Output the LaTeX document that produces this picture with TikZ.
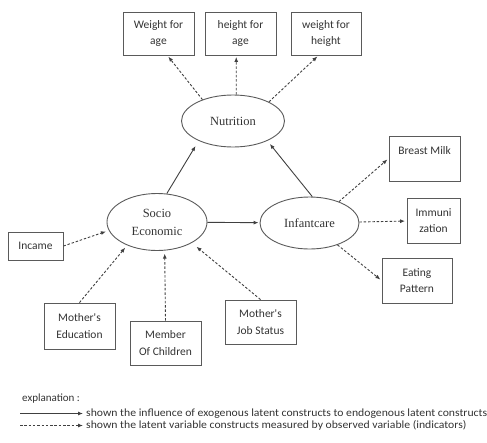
\documentclass[tikz,border=0pt]{standalone}
\usepackage{fontspec}
\setmainfont{Liberation Serif}
\newfontfamily\boxfont{Carlito}
\usetikzlibrary{shapes.geometric,arrows.meta}
\definecolor{linec}{HTML}{404040}
\definecolor{boxc}{HTML}{5A5A5A}
\definecolor{txtc}{HTML}{333333}
\begin{document}
\begin{tikzpicture}[x=1pt,y=-1pt,
  lat/.style={ellipse,draw=boxc,line width=0.9pt,inner sep=0pt,font=\fontsize{12.5}{18}\selectfont,align=center,text=txtc},
  obs/.style={rectangle,draw=boxc,line width=0.9pt,inner sep=0pt,font=\boxfont\fontsize{11.5}{16.5}\selectfont,align=center,text=txtc},
  causal/.style={draw=linec,line width=0.9pt,-{Latex[length=5pt,width=4pt]}},
  meas/.style={causal,dash pattern=on 2.5pt off 1.8pt,shorten >=1.5pt},
  legtext/.style={anchor=west,inner sep=3pt,font=\boxfont\fontsize{11}{12}\selectfont,text=txtc},
]
\useasboundingbox (0,0) rectangle (487,442);

% latent constructs
\node[lat,minimum width=103pt,minimum height=52pt] (nut) at (233,121) {Nutrition};
\node[lat,minimum width=100pt,minimum height=57pt] (soc) at (157,222) {Socio\\Economic};
\node[lat,minimum width=99pt,minimum height=52pt] (inf) at (309.5,223) {Infantcare};

% indicators
\node[obs,minimum width=71pt,minimum height=43pt] (w) at (158.5,33.5) {Weight for\\age};
\node[obs,minimum width=71pt,minimum height=43pt] (h) at (240.5,33.5) {height for\\age};
\node[obs,minimum width=70pt,minimum height=43pt] (wh) at (326,33.5) {weight for\\height};
\node[obs,minimum width=71pt,minimum height=45pt] (bm) at (424.5,158.5) {Breast Milk\\\mbox{}};
\node[obs,minimum width=53pt,minimum height=45pt] (imm) at (433.5,220.5) {Immuni\\zation};
\node[obs,minimum width=70pt,minimum height=45pt] (ep) at (417,280.5) {Eating\\Pattern};
\node[obs,minimum width=55pt,minimum height=28pt] (inc) at (35.5,246) {Incame};
\node[obs,minimum width=71pt,minimum height=46pt] (med) at (79.5,326) {Mother's\\Education};
\node[obs,minimum width=71pt,minimum height=44pt] (moc) at (165.5,343) {Member\\Of Children};
\node[obs,minimum width=71pt,minimum height=44pt] (mjs) at (260.5,322) {Mother's\\Job Status};

% structural paths
\draw[causal,shorten >=6pt] (soc.71) -- (nut.210);
\draw[causal,shorten >=4pt] (inf.84) -- (nut.-30);
\draw[causal,shorten >=1pt] (soc) -- (inf);

% measurement paths
\draw[meas] (nut.145) -- (w.-68);
\draw[meas] (nut.83) -- (h.-101);
\draw[meas] (nut.28) -- (wh.-109);
\draw[meas,shorten >=3pt] (inc.east) -- (soc.190);
\draw[meas,shorten >=3pt] (med.north) -- (soc.218);
\draw[meas,shorten >=3pt] (moc.north) -- (soc.-75);
\draw[meas,shorten >=6pt] (mjs.north) -- (soc.-31);
\draw[meas] (inf.36) -- (bm.west);
\draw[meas] (inf) -- (imm);
\draw[meas] (inf.-38) -- (ep.west);

% legend
\node[legtext] (expl) at (19,399) {explanation :};
\node[legtext] (l1) at (83,413.5) {\scalebox{1.065}[1]{shown the influence of exogenous latent constructs to endogenous latent constructs}};
\node[legtext] (l2) at (83,425.5) {\scalebox{1.065}[1]{shown the latent variable constructs measured by observed variable (indicators)}};
\coordinate (l1s) at (20,413.5);
\coordinate (l2s) at (20,425.5);
\draw[causal] (l1s) -- (l1.west);
\draw[meas,shorten >=0pt] (l2s) -- (l2.west);
\end{tikzpicture}
\end{document}
